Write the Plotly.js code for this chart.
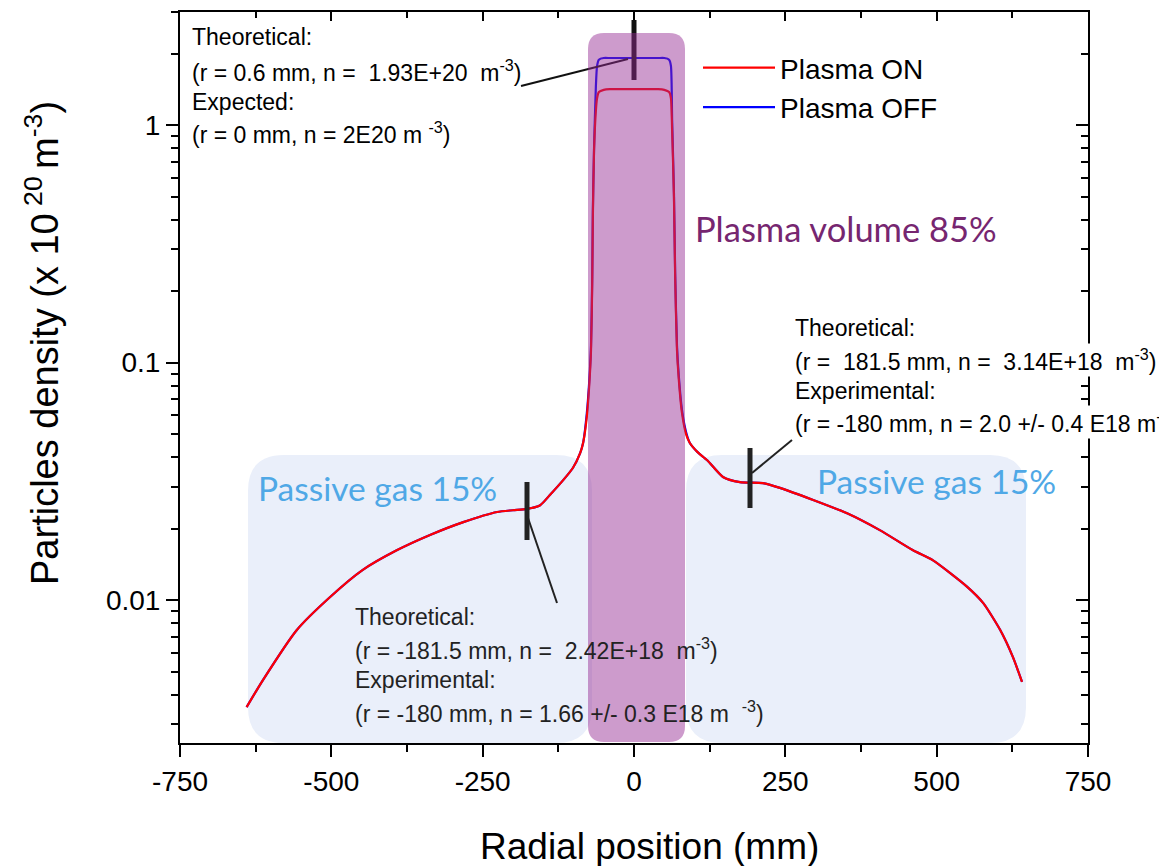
<!DOCTYPE html>
<html>
<head>
<meta charset="utf-8">
<script src="https://cdn.plot.ly/plotly-3.0.1.min.js"></script>
<style>html,body{margin:0;padding:0;background:#fff;}#chart{width:1159px;height:866px;}</style>
</head>
<body>
<div id="chart"></div>
<script>
// ---- data ----
const radialPos = [-640,-613,-557,-502,-448,-392,-337,-282,-226,-200,-177,-155,-139,-117,-101,-89,-84,-78,-74,-71,-69,-68,-66,-63,-61,-58,-50,-40,-20,0,20,40,50,58,61,63,66,68,71,74,79,86,92,105,121,147,175,213,241,296,352,406,461,494,550,577,605,626,641];
const plasmaOn = [0.00354,0.00460,0.00748,0.0103,0.0134,0.0162,0.0188,0.0213,0.0235,0.0239,0.0242,0.0251,0.0277,0.0320,0.0360,0.0416,0.0460,0.059,0.080,0.113,0.216,0.41,0.785,1.15,1.30,1.38,1.41,1.42,1.42,1.42,1.42,1.42,1.41,1.38,1.30,0.95,0.50,0.23,0.113,0.085,0.062,0.050,0.046,0.042,0.0388,0.0330,0.0314,0.0311,0.0297,0.0264,0.0232,0.0197,0.0162,0.0147,0.0114,0.00971,0.00748,0.00575,0.00452];
const plasmaOff = [0.00354,0.00460,0.00748,0.0103,0.0134,0.0162,0.0188,0.0213,0.0235,0.0239,0.0242,0.0251,0.0277,0.0320,0.0360,0.0416,0.0460,0.061,0.083,0.118,0.23,0.43,0.80,1.45,1.78,1.89,1.92,1.92,1.92,1.92,1.92,1.92,1.92,1.89,1.78,1.05,0.52,0.24,0.118,0.088,0.064,0.051,0.046,0.042,0.0388,0.0330,0.0314,0.0311,0.0297,0.0264,0.0232,0.0197,0.0162,0.0147,0.0114,0.00971,0.00748,0.00575,0.00452];
const seriesNames = ['Plasma ON','Plasma OFF'];
const xTickVals = [-750,-500,-250,0,250,500,750];
const xTickText = ['-750','-500','-250','0','250','500','750'];
const yTickVals = [0.01,0.1,1];
const yTickText = ['0.01','0.1','1'];
const xTitle = 'Radial position (mm)';
const yTitle = 'Particles density (x 10<sup> 20 </sup>m<sup>-3</sup>)';

// ---- layout helpers (pixel -> paper) ----
const L = 180, T = 12, W = 908, H = 731;
const PX = p => (p - L) / W;
const PY = p => (T + H - p) / H;
function rrect(x0, y0, x1, y1, r) {
  const f = (x, y) => PX(x).toFixed(5) + ',' + PY(y).toFixed(5);
  return 'M' + f(x0 + r, y0) + ' L' + f(x1 - r, y0) + ' Q' + f(x1, y0) + ' ' + f(x1, y0 + r) +
    ' L' + f(x1, y1 - r) + ' Q' + f(x1, y1) + ' ' + f(x1 - r, y1) +
    ' L' + f(x0 + r, y1) + ' Q' + f(x0, y1) + ' ' + f(x0, y1 - r) +
    ' L' + f(x0, y0 + r) + ' Q' + f(x0, y0) + ' ' + f(x0 + r, y0) + ' Z';
}
function seg(x0, y0, x1, y1, w, c) {
  return {type: 'line', xref: 'paper', yref: 'paper', x0: PX(x0), y0: PY(y0), x1: PX(x1), y1: PY(y1),
    line: {color: c, width: w}, layer: 'above'};
}

const minorY = [];
for (let e = -3; e <= 0; e++) for (let m = 2; m <= 9; m++) minorY.push(m * Math.pow(10, e));
const minorX = [-625,-375,-125,125,375,625];

const FONT = 'Liberation Sans, Arial, sans-serif';
const traces = [
  {x: radialPos, y: plasmaOff, name: seriesNames[1], type: 'scatter', mode: 'lines',
   line: {color: '#0000ff', width: 2.2, shape: 'spline', smoothing: 0.6}},
  {x: radialPos, y: plasmaOn, name: seriesNames[0], type: 'scatter', mode: 'lines',
   line: {color: '#ff0000', width: 2.2, shape: 'spline', smoothing: 0.6}},
  {x: [0], y: [1], xaxis: 'x2', yaxis: 'y2', type: 'scatter', mode: 'lines', showlegend: false,
   hoverinfo: 'skip', line: {color: 'rgba(0,0,0,0)'}}
];

const axCommon = {showline: true, linewidth: 2, linecolor: 'black', showgrid: false, zeroline: false,
  tickwidth: 2, tickcolor: 'black', ticklen: 12, tickfont: {family: FONT, size: 28, color: 'black'}};

function textLines(x, ys, lines, opts) {
  return lines.map((t, i) => Object.assign({
    xref: 'paper', yref: 'paper', x: PX(x), y: PY(ys[i]), xanchor: 'left', yanchor: 'middle',
    text: t, showarrow: false, font: {family: FONT, size: 23, color: opts.color}, borderpad: 0
  }, opts.extra || {}));
}

const annotations = [].concat(
  textLines(191, [37, 71, 102, 133], ['Theoretical:', '(r = 0.6 mm, n =  1.93E+20  m<sup>-3</sup>)', 'Expected:', '(r = 0 mm, n = 2E20 m <sup>-3</sup>)'], {color: '#000'}),
  textLines(354, [617, 649, 680, 712], ['Theoretical:', '(r = -181.5 mm, n =  2.42E+18  m<sup>-3</sup>)', 'Experimental:', '(r = -180 mm, n = 1.66 +/- 0.3 E18 m  <sup>-3</sup>)'], {color: '#222'}),
  textLines(794, [328, 360, 391, 422], ['Theoretical:', '(r =  181.5 mm, n =  3.14E+18  m<sup>-3</sup>)', 'Experimental:', '(r = -180 mm, n = 2.0 +/- 0.4 E18 m<sup>-3</sup>)'], {color: '#000', extra: {bgcolor: 'white', height: 32}}),
  [
    {xref: 'paper', yref: 'paper', x: PX(693), y: PY(228), xanchor: 'left', yanchor: 'middle', showarrow: false,
     text: 'Plasma volume 85%', font: {family: 'Lato, Open Sans, sans-serif', size: 34.5, color: 'rgb(118,38,112)'}},
    {xref: 'paper', yref: 'paper', x: PX(256), y: PY(488), xanchor: 'left', yanchor: 'middle', showarrow: false,
     text: 'Passive gas 15%', font: {family: 'Lato, Open Sans, sans-serif', size: 33.5, color: '#4fa8e6'}},
    {xref: 'paper', yref: 'paper', x: PX(815), y: PY(481), xanchor: 'left', yanchor: 'middle', showarrow: false,
     text: 'Passive gas 15%', font: {family: 'Lato, Open Sans, sans-serif', size: 33.5, color: '#4fa8e6'}},
    // axis titles
    {xref: 'paper', yref: 'paper', x: PX(649), y: PY(847), xanchor: 'center', yanchor: 'middle', showarrow: false,
     text: xTitle, font: {family: FONT, size: 37, color: 'black'}},
    {xref: 'paper', yref: 'paper', x: PX(42), y: PY(343), xanchor: 'center', yanchor: 'middle', showarrow: false,
     textangle: -90, text: yTitle, font: {family: FONT, size: 38, color: 'black'}}
  ]
);

const shapes = [
  {type: 'path', xref: 'paper', yref: 'paper', path: rrect(248, 455, 592, 743, 36), fillcolor: 'rgb(234,239,250)', line: {width: 0}, layer: 'below'},
  {type: 'path', xref: 'paper', yref: 'paper', path: rrect(686, 455, 1026, 743, 36), fillcolor: 'rgb(234,239,250)', line: {width: 0}, layer: 'below'},
  // markers and leader lines
  seg(634, 20, 634, 80, 5, '#111'),
  seg(521, 86, 628, 59, 2, '#111'),
  seg(527, 482, 527, 540, 5, '#222'),
  seg(528, 518, 557, 603, 2, '#222'),
  seg(750, 448, 750, 508, 5, '#222'),
  seg(752, 473, 792, 440, 2, '#222'),
  // plasma region (translucent, on top)
  {type: 'path', xref: 'paper', yref: 'paper', path: rrect(588, 33, 685, 742, 16), fillcolor: 'rgba(149,43,146,0.47)', line: {width: 0}, layer: 'above'}
];

const layout = {
  width: 1159, height: 866,
  margin: {l: L, r: 1159 - L - W, t: T, b: 866 - T - H, pad: 0},
  paper_bgcolor: 'white', plot_bgcolor: 'white',
  font: {family: FONT, color: 'black'},
  showlegend: true,
  legend: {x: PX(698), y: PY(43), xanchor: 'left', yanchor: 'top', bgcolor: 'rgba(0,0,0,0)',
    font: {family: FONT, size: 28, color: 'black'}, traceorder: 'reversed', itemwidth: 72, tracegroupgap: 0},
  xaxis: Object.assign({}, axCommon, {range: [-750, 750], tickmode: 'array', tickvals: xTickVals, ticktext: xTickText,
    ticks: 'outside', minor: {tickmode: 'array', tickvals: minorX, ticks: 'outside', ticklen: 7, tickwidth: 2, tickcolor: 'black', showgrid: false}}),
  yaxis: Object.assign({}, axCommon, {type: 'log', range: [Math.log10(0.0025), Math.log10(3)], tickmode: 'array',
    tickvals: yTickVals, ticktext: yTickText, ticks: 'outside',
    minor: {tickmode: 'array', tickvals: minorY, ticks: 'outside', ticklen: 7, tickwidth: 2, tickcolor: 'black', showgrid: false}}),
  xaxis2: Object.assign({}, axCommon, {overlaying: 'x', anchor: 'y', side: 'top', range: [-750, 750], tickmode: 'array',
    tickvals: xTickVals, ticks: 'inside', showticklabels: false, ticklen: 9,
    minor: {tickmode: 'array', tickvals: minorX, ticks: 'inside', ticklen: 6, tickwidth: 2, tickcolor: 'black', showgrid: false}}),
  yaxis2: Object.assign({}, axCommon, {overlaying: 'y', anchor: 'x', side: 'right', type: 'log',
    range: [Math.log10(0.0025), Math.log10(3)], tickmode: 'array', tickvals: yTickVals, ticks: 'inside', showticklabels: false,
    minor: {tickmode: 'array', tickvals: minorY, ticks: 'inside', ticklen: 7, tickwidth: 2, tickcolor: 'black', showgrid: false}}),
  shapes: shapes,
  annotations: annotations
};

Plotly.newPlot('chart', traces, layout, {displayModeBar: false, staticPlot: true});
</script>
</body>
</html>
